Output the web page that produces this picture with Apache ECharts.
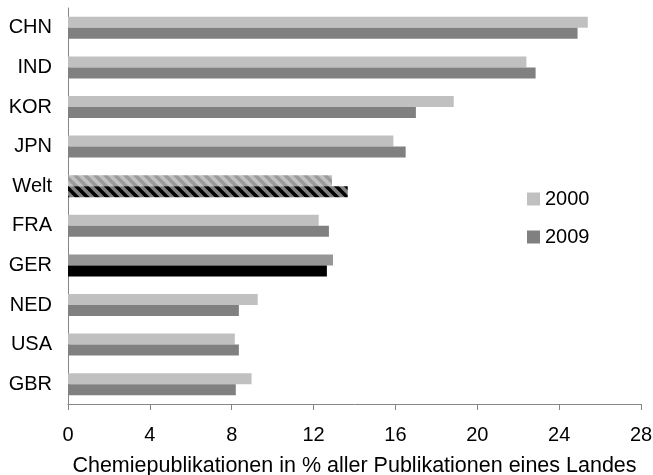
<!DOCTYPE html>
<html>
<head>
<meta charset="utf-8">
<script src="https://cdn.jsdelivr.net/npm/echarts@6/dist/echarts.min.js"></script>
<style>html,body{margin:0;padding:0;background:#fff}#c{width:653px;height:475px}</style>
</head>
<body>
<div id="c"></div>
<script>
var categories = ['CHN','IND','KOR','JPN','Welt','FRA','GER','NED','USA','GBR'];
var values2000 = [25.4, 22.4, 18.85, 15.9, 12.9, 12.25, 12.95, 9.27, 8.15, 8.97];
var values2009 = [24.9, 22.85, 17.0, 16.5, 13.67, 12.75, 12.65, 8.35, 8.35, 8.2];
var seriesNames = ['2000', '2009'];
var xTicks = { min: 0, max: 28, interval: 4 };
var axisTitle = 'Chemiepublikationen in % aller Publikationen eines Landes';

function stripe(base, line) {
  var s = 10;
  var c = document.createElement('canvas');
  c.width = s; c.height = s;
  var g = c.getContext('2d');
  g.fillStyle = base; g.fillRect(0, 0, s, s);
  g.strokeStyle = line; g.lineWidth = 3.5;
  g.beginPath();
  g.moveTo(-s, -s); g.lineTo(2 * s, 2 * s);
  g.moveTo(0, -s); g.lineTo(2 * s, s);
  g.moveTo(-s, 0); g.lineTo(s, 2 * s);
  g.stroke();
  return { image: c, repeat: 'repeat' };
}

var c2000 = '#c0c0c0', c2009 = '#808080';
function style2000(cat) {
  if (cat === 'Welt') return { color: stripe('#c0c0c0', '#9a9a9a') };
  if (cat === 'GER') return { color: '#969696' };
  return { color: c2000 };
}
function style2009(cat) {
  if (cat === 'Welt') return { color: stripe('#808080', '#000000') };
  if (cat === 'GER') return { color: '#000000' };
  return { color: c2009 };
}

var chart = echarts.init(document.getElementById('c'), null, { renderer: 'canvas' });
var font = 'Liberation Sans, Arial, sans-serif';
chart.setOption({
  animation: false,
  textStyle: { fontFamily: font },
  grid: { left: 68, right: 12, top: 8, bottom: 71, containLabel: false, outerBoundsMode: 'none' },
  legend: {
    orient: 'vertical', left: 522, top: 184,
    itemWidth: 13, itemHeight: 13, itemGap: 18,
    icon: 'rect',
    textStyle: { fontSize: 20, color: '#000', fontFamily: font, padding: [0, 0, 0, 0] },
    data: seriesNames
  },
  xAxis: {
    type: 'value', min: xTicks.min, max: xTicks.max, interval: xTicks.interval,
    axisLine: { show: true, lineStyle: { color: '#868686', width: 1 } },
    axisTick: { show: true, length: 6, lineStyle: { color: '#868686' } },
    splitLine: { show: false },
    axisLabel: { fontSize: 20, color: '#000', margin: 21, fontFamily: font },
    name: axisTitle, nameLocation: 'middle', nameGap: 51,
    nameTextStyle: { fontSize: 21.5, color: '#000', fontFamily: font }
  },
  yAxis: {
    type: 'category', data: categories, inverse: true,
    axisLine: { show: true, lineStyle: { color: '#868686', width: 1 } },
    axisTick: { show: false },
    axisLabel: { fontSize: 20, color: '#000', margin: 16, fontFamily: font }
  },
  series: [
    {
      name: seriesNames[0], type: 'bar', barWidth: 11, barGap: '0%',
      itemStyle: { color: c2000 },
      data: values2000.map(function (v, i) { return { value: v, itemStyle: style2000(categories[i]) }; })
    },
    {
      name: seriesNames[1], type: 'bar', barWidth: 11, barGap: '0%',
      itemStyle: { color: c2009 },
      data: values2009.map(function (v, i) { return { value: v, itemStyle: style2009(categories[i]) }; })
    }
  ]
});
</script>
</body>
</html>
